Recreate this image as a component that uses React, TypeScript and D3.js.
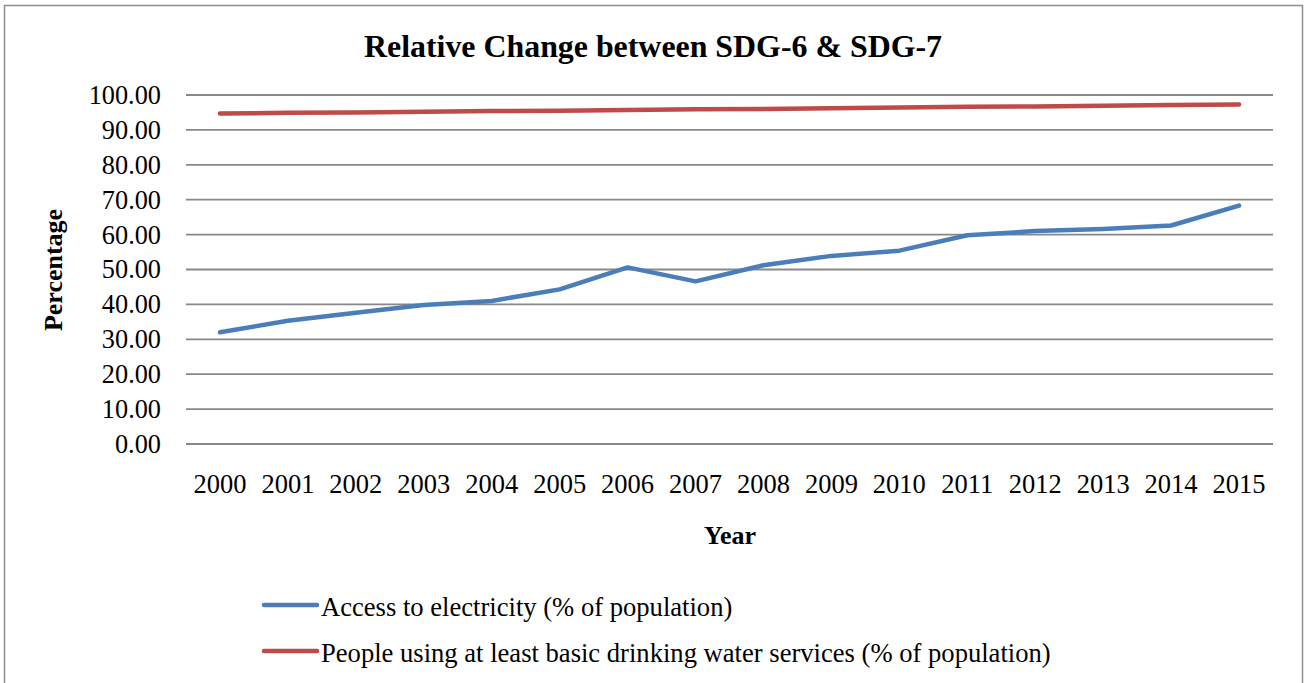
import React from "react";
import * as d3 from "d3";

// Years on the category axis
const years: string[] = [
  "2000", "2001", "2002", "2003", "2004", "2005", "2006", "2007",
  "2008", "2009", "2010", "2011", "2012", "2013", "2014", "2015",
];

// Access to electricity (% of population)
const electricity: number[] = [
  32.0, 35.3, 37.6, 39.8, 41.0, 44.3, 50.6, 46.6,
  51.2, 53.9, 55.4, 59.8, 61.0, 61.6, 62.6, 68.3,
];

// People using at least basic drinking water services (% of population)
const water: number[] = [
  94.7, 94.9, 95.0, 95.2, 95.4, 95.5, 95.7, 95.9,
  96.0, 96.2, 96.4, 96.6, 96.7, 96.9, 97.1, 97.3,
];

const yTicks: number[] = [0, 10, 20, 30, 40, 50, 60, 70, 80, 90, 100];

const seriesNames: string[] = [
  "Access to electricity (% of population)",
  "People using at least basic drinking water services (% of population)",
];

const W = 1311;
const H = 683;
const SERIF = { fontFamily: "Liberation Serif" };
const GRID = "#888888";
const BLUE = "#4a7ebb";
const RED = "#be4b48";

export default function App() {
  const plot = { left: 186, right: 1273, top: 95, bottom: 444 };

  const x = d3
    .scaleBand<string>()
    .domain(years)
    .range([plot.left, plot.right])
    .paddingInner(0)
    .paddingOuter(0);
  const cx = (yr: string) => (x(yr) ?? 0) + x.bandwidth() / 2;

  const y = d3.scaleLinear().domain([0, 100]).range([plot.bottom, plot.top]);

  const line = d3
    .line<number>()
    .x((_, i) => cx(years[i]))
    .y((v) => y(v));

  const series = [
    { name: seriesNames[0], values: electricity, color: BLUE },
    { name: seriesNames[1], values: water, color: RED },
  ];

  return (
    <div style={{ position: "fixed", left: 0, top: 0, width: W, height: H, background: "#fff" }}>
      <svg width={W} height={H} style={{ display: "block", fontFamily: "Liberation Serif" }}>
        <rect x={0} y={0} width={W} height={H} fill="#fff" />
        {/* outer chart frame */}
        <rect
          x={4.5}
          y={5.5}
          width={1298}
          height={700}
          fill="none"
          stroke="#8c8c8c"
          strokeWidth={1.5}
        />

        {/* title */}
        <text
          x={653}
          y={57}
          textAnchor="middle"
          fontSize={31}
          fontWeight="bold"
          textLength={578}
          lengthAdjust="spacingAndGlyphs"
          fill="#000"
          style={SERIF}
        >
          Relative Change between SDG-6 &amp; SDG-7
        </text>

        {/* horizontal gridlines and y tick labels */}
        {yTicks.map((t) => (
          <g key={t}>
            <line
              x1={plot.left}
              x2={plot.right}
              y1={y(t)}
              y2={y(t)}
              stroke={GRID}
              strokeWidth={1.8}
            />
            <text
              x={161}
              y={y(t)}
              dy="0.34em"
              textAnchor="end"
              fontSize={26.3}
              fill="#000"
              style={SERIF}
            >
              {d3.format(".2f")(t)}
            </text>
          </g>
        ))}

        {/* x tick labels */}
        {years.map((yr) => (
          <text
            key={yr}
            x={cx(yr)}
            y={493}
            textAnchor="middle"
            fontSize={26.5}
            fill="#000"
            style={SERIF}
          >
            {yr}
          </text>
        ))}

        {/* axis titles */}
        <text
          x={730}
          y={544}
          textAnchor="middle"
          fontSize={26}
          fontWeight="bold"
          fill="#000"
          style={SERIF}
        >
          Year
        </text>
        <text
          transform={`translate(62,270) rotate(-90)`}
          textAnchor="middle"
          fontSize={26}
          fontWeight="bold"
          fill="#000"
          style={SERIF}
        >
          Percentage
        </text>

        {/* data lines */}
        {series.map((s) => (
          <path
            key={s.name}
            d={line(s.values) ?? ""}
            fill="none"
            stroke={s.color}
            strokeWidth={4.5}
            strokeLinejoin="round"
            strokeLinecap="round"
          />
        ))}

        {/* legend */}
        {series.map((s, i) => {
          const ly = 605 + i * 46;
          return (
            <g key={s.name}>
              <line
                x1={264}
                x2={317}
                y1={ly}
                y2={ly}
                stroke={s.color}
                strokeWidth={4.5}
                strokeLinecap="round"
              />
              <text x={321} y={ly + 3} dy="0.3em" fontSize={26.6} fill="#000" style={SERIF}>
                {s.name}
              </text>
            </g>
          );
        })}
      </svg>
    </div>
  );
}
